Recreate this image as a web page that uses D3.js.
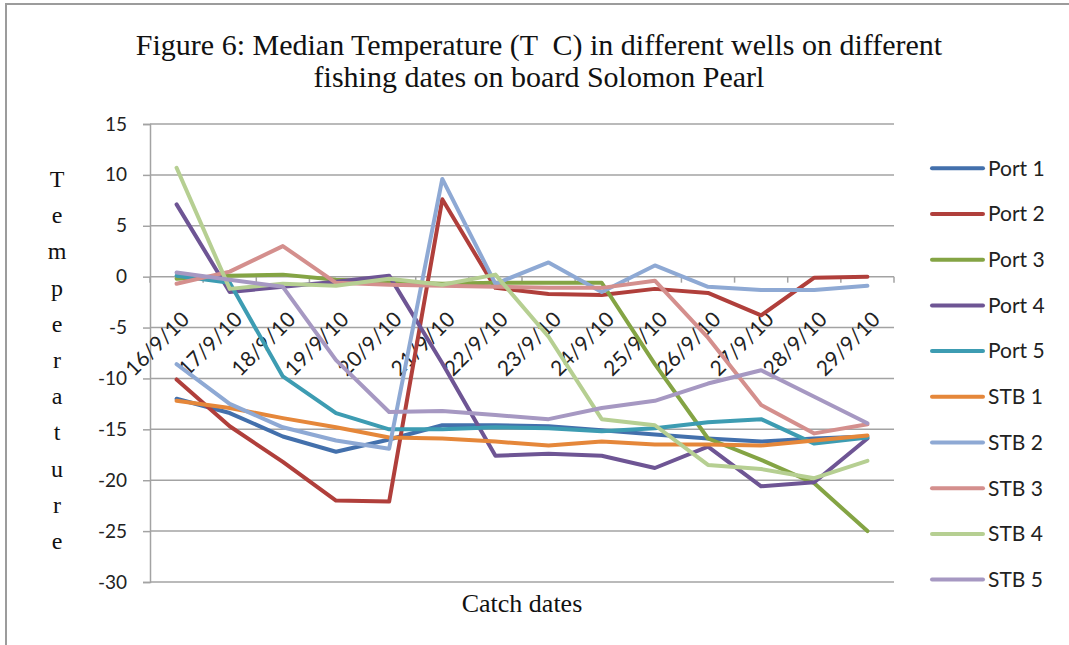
<!DOCTYPE html>
<html>
<head>
<meta charset="utf-8">
<script src="https://cdn.jsdelivr.net/npm/d3@7"></script>
<style>
  body { margin: 0; background: #fff; }
  svg { display: block; }
</style>
</head>
<body>
<div id="chart"></div>
<script>

// Catch dates on the x axis
var dates = ['16/9/10', '17/9/10', '18/9/10', '19/9/10', '20/9/10', '21/9/10', '22/9/10',
             '23/9/10', '24/9/10', '25/9/10', '26/9/10', '27/9/10', '28/9/10', '29/9/10'];

// Median temperature per well
var port1 = [-12.0, -13.4, -15.7, -17.2, -16.0, -14.6, -14.6, -14.7, -15.1, -15.5, -15.9, -16.2, -15.9, -15.7];
var port2 = [-10.1, -14.7, -18.2, -22.0, -22.1, 7.6, -1.1, -1.7, -1.8, -1.2, -1.6, -3.8, -0.1, 0.0];
var port3 = [-0.2, 0.1, 0.2, -0.3, -0.5, -0.7, -0.6, -0.6, -0.6, -8.6, -15.9, -18.0, -20.3, -25.0];
var port4 = [7.1, -1.5, -1.0, -0.5, 0.1, -8.5, -17.6, -17.4, -17.6, -18.8, -16.7, -20.6, -20.2, -15.9];
var port5 = [0.1, -0.6, -9.8, -13.4, -15.0, -15.0, -14.8, -14.9, -15.2, -14.9, -14.3, -14.0, -16.4, -15.8];
var stb1  = [-12.2, -12.9, -13.9, -14.8, -15.8, -15.9, -16.2, -16.6, -16.2, -16.5, -16.5, -16.6, -16.1, -15.6];
var stb2  = [-8.6, -12.5, -14.8, -16.1, -16.9, 9.6, -0.7, 1.4, -1.5, 1.1, -1.0, -1.3, -1.3, -0.9];
var stb3  = [-0.7, 0.5, 3.0, -0.6, -0.8, -0.9, -1.0, -1.1, -1.1, -0.4, -6.0, -12.6, -15.4, -14.5];
var stb4  = [10.7, -1.2, -0.7, -0.9, -0.2, -0.8, 0.2, -5.9, -14.0, -14.6, -18.5, -18.9, -19.8, -18.1];
var stb5  = [0.4, -0.3, -1.0, -8.2, -13.3, -13.2, -13.6, -14.0, -12.9, -12.2, -10.5, -9.2, -11.8, -14.4];

var seriesNames = ['Port 1', 'Port 2', 'Port 3', 'Port 4', 'Port 5', 'STB 1', 'STB 2', 'STB 3', 'STB 4', 'STB 5'];
var seriesColors = ['#4370AC', '#B03F3B', '#84A444', '#6E5594', '#3D9CB2',
                    '#E5873A', '#8EA9D4', '#D48F8D', '#B6CF92', '#A698C2'];
var yTicks = [15, 10, 5, 0, -5, -10, -15, -20, -25, -30];

var titleLines = ['Figure 6: Median Temperature (T  C) in different wells on different',
                  'fishing dates on board Solomon Pearl'];

// Build series table from the arrays
var series = [port1, port2, port3, port4, port5, stb1, stb2, stb3, stb4, stb5].map(function(vals, i) {
    return {
        name: seriesNames[i],
        color: seriesColors[i],
        values: vals.map(function(v, j) { return {date: dates[j], value: v}; })
    };
});

// Dimensions
var width = 1069,
    height = 645,
    margin = {top: 124, right: 175, bottom: 63, left: 150};

var gridColor = '#A3A3A3',
    sansFont = 'Lato, "Open Sans", sans-serif',
    serifFont = '"Liberation Serif", "Times New Roman", serif';

var svg = d3.select('#chart').append('svg')
    .attr('width', width)
    .attr('height', height)
;

svg.append('rect')
    .attr('width', width)
    .attr('height', height)
    .attr('fill', '#fff')
;

// Outer frame (top and left edges as in the scan)
svg.append('path')
    .attr('d', 'M6,' + height + 'V4H' + width)
    .attr('fill', 'none')
    .attr('stroke', '#9C9C9C')
    .attr('stroke-width', 2)
;

// Scales
var x = d3.scaleBand()
    .domain(dates)
    .range([margin.left, width - margin.right])
;

var y = d3.scaleLinear()
    .domain([-30, 15])
    .range([height - margin.bottom, margin.top])
;

var xc = function(d) { return x(d) + x.bandwidth() / 2; };

// Title
svg.append('text')
    .attr('class', 'chart-title')
    .attr('text-anchor', 'middle')
    .style('font-family', serifFont)
    .style('font-size', '30px')
    .style('white-space', 'pre')
    .attr('fill', '#111')
    .selectAll('tspan')
    .data(titleLines)
    .enter()
    .append('tspan')
    .attr('x', 539)
    .attr('y', function(d, i) { return 55 + i * 32; })
    .text(function(d) { return d; })
;

// Horizontal gridlines
svg.append('g')
    .attr('class', 'grid')
    .selectAll('line')
    .data(yTicks)
    .enter()
    .append('line')
    .attr('x1', margin.left)
    .attr('x2', width - margin.right)
    .attr('y1', function(d) { return y(d); })
    .attr('y2', function(d) { return y(d); })
    .attr('stroke', gridColor)
    .attr('stroke-width', 1.5)
;

// Y axis (plain hyphen for negatives, like the original)
var yAxis = svg.append('g')
    .attr('transform', 'translate(' + margin.left + ',0)')
    .call(d3.axisLeft(y)
        .tickValues(yTicks)
        .tickFormat(function(d) { return String(d); })
        .tickSize(7)
        .tickPadding(16))
;
yAxis.select('.domain').attr('stroke', gridColor).attr('stroke-width', 1.5);
yAxis.selectAll('.tick line').attr('stroke', gridColor).attr('stroke-width', 1.5);
yAxis.selectAll('.tick text')
    .style('font-family', sansFont)
    .style('font-size', '19px')
    .attr('fill', '#222')
;

// X axis sits on zero, ticks on category boundaries
var boundaries = dates.map(function(d) { return x(d); }).concat([x.range()[1]]);
svg.append('g')
    .attr('class', 'x-ticks')
    .selectAll('line')
    .data(boundaries)
    .enter()
    .append('line')
    .attr('x1', function(d) { return d; })
    .attr('x2', function(d) { return d; })
    .attr('y1', y(0))
    .attr('y2', y(0) + 6)
    .attr('stroke', gridColor)
    .attr('stroke-width', 1.5)
;

// Rotated date labels
svg.append('g')
    .attr('class', 'x-labels')
    .selectAll('text')
    .data(dates)
    .enter()
    .append('text')
    .attr('transform', function(d) {
        return 'translate(' + (xc(d) + 14) + ',' + (y(0) + 44) + ') rotate(-45)';
    })
    .attr('text-anchor', 'end')
    .style('font-family', sansFont)
    .style('font-size', '21px')
    .attr('fill', '#222')
    .text(function(d) { return d; })
;

// Y axis title, one letter per row
svg.append('g')
    .attr('class', 'y-title')
    .selectAll('text')
    .data('Temperature'.split(''))
    .enter()
    .append('text')
    .attr('x', 57)
    .attr('y', function(d, i) { return 187 + i * 36.2; })
    .attr('text-anchor', 'middle')
    .style('font-family', serifFont)
    .style('font-size', '24px')
    .attr('fill', '#111')
    .text(function(d) { return d; })
;

// X axis title
svg.append('text')
    .attr('x', 522)
    .attr('y', 612)
    .attr('text-anchor', 'middle')
    .style('font-family', serifFont)
    .style('font-size', '26px')
    .attr('fill', '#111')
    .text('Catch dates')
;

// Lines
var line = d3.line()
    .x(function(d) { return xc(d.date); })
    .y(function(d) { return y(d.value); })
;

svg.append('g')
    .attr('class', 'lines')
    .selectAll('path')
    .data(series)
    .enter()
    .append('path')
    .attr('d', function(d) { return line(d.values); })
    .attr('fill', 'none')
    .attr('stroke', function(d) { return d.color; })
    .attr('stroke-width', 4)
    .attr('stroke-linejoin', 'round')
    .attr('stroke-linecap', 'round')
;

// Legend
var legend = svg.append('g')
    .attr('class', 'legend')
    .selectAll('g')
    .data(series)
    .enter()
    .append('g')
    .attr('transform', function(d, i) { return 'translate(932,' + (168.3 + i * 45.7) + ')'; })
;

legend.append('line')
    .attr('x1', 0)
    .attr('x2', 51)
    .attr('stroke', function(d) { return d.color; })
    .attr('stroke-width', 4)
    .attr('stroke-linecap', 'round')
;

legend.append('text')
    .attr('x', 56)
    .attr('dy', '0.35em')
    .style('font-family', sansFont)
    .style('font-size', '21px')
    .attr('fill', '#222')
    .text(function(d) { return d.name; })
;

</script>
</body>
</html>
